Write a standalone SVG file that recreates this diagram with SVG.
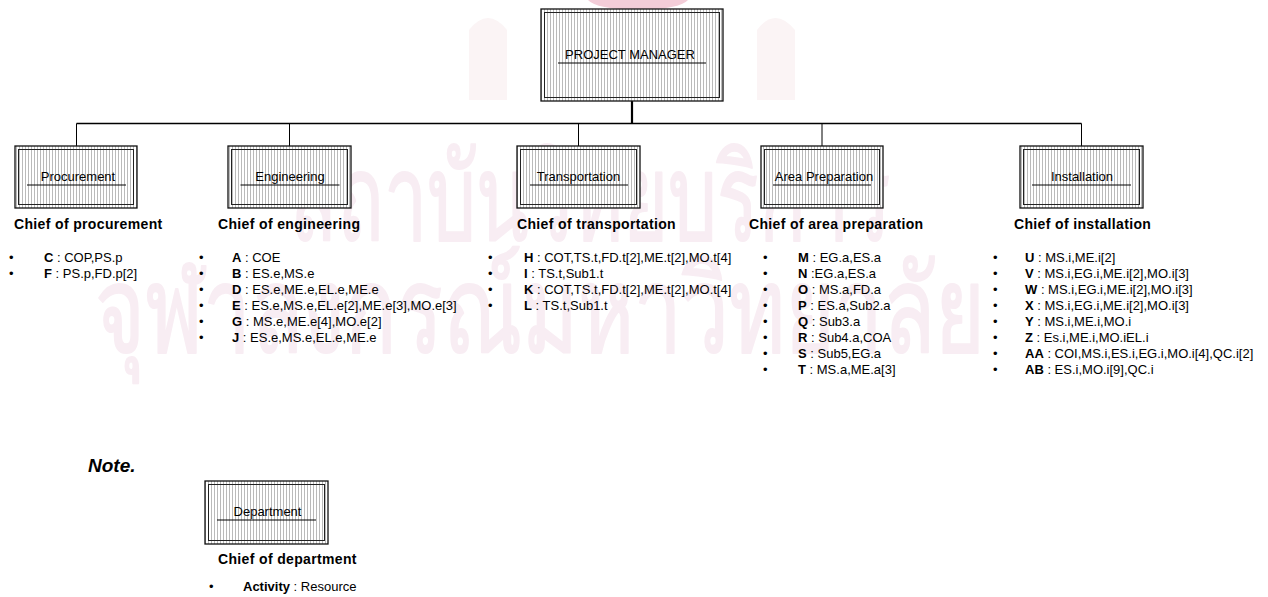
<svg xmlns="http://www.w3.org/2000/svg" width="1268" height="597" viewBox="0 0 1268 597">
  <style>
    text { font-family: "Liberation Sans", Arial, sans-serif; fill: #000; }
    .lbl { font-size: 13px; text-anchor: middle; }
    .chief { font-size: 14px; font-weight: bold; letter-spacing: 0.35px; }
    .item { font-size: 13px; }
    .item tspan.k { font-weight: bold; }
    .outer { fill: url(#hatch); stroke: #111; stroke-width: 1.3; }
    .inner { fill: none; stroke: #222; stroke-width: 1; }
    .ul { stroke: #000; stroke-width: 1; }
    .wire { stroke: #000; fill: none; }
    .wm { font-family: "Noto Sans", "DejaVu Sans", sans-serif; font-size: 120px;
          fill: #f8edf3; stroke: #f8edf3; stroke-width: 2; stroke-linejoin: round; }
    .emblem { fill: #fbf4f5; }
  </style>
  <defs>
    <pattern id="hatch" width="3" height="10" patternUnits="userSpaceOnUse">
      <rect width="3" height="10" fill="#fff"/>
      <line x1="1.5" y1="0" x2="1.5" y2="10" stroke="#9c9c9c" stroke-width="0.7"/>
    </pattern>
  </defs>

  <rect width="1268" height="597" fill="#fff"/>

  <!-- faint background emblem and lettering -->
  <g id="watermark">
    <path class="emblem" d="M757 100 V30 Q775 6 795 30 V100 Z"/>
    <path class="emblem" d="M469 100 V30 Q488 6 507 30 V100 Z"/>
    <path d="M588 0 H688 Q680 9 638 10 Q596 9 588 0 Z" fill="#f3cdd8"/>
    <text class="wm" x="290" y="240" textLength="600" lengthAdjust="spacingAndGlyphs">สถาบันวิทยบริการ</text>
    <text class="wm" x="95" y="352" textLength="890" lengthAdjust="spacingAndGlyphs">จุฬาลงกรณ์มหาวิทยาลัย</text>
  </g>

  <!-- tree connectors -->
  <g id="connectors">
    <line class="wire" x1="632" y1="101" x2="632" y2="124" stroke-width="2.2"/>
    <line class="wire" x1="76.5" y1="123.5" x2="1081.5" y2="123.5" stroke-width="1.4"/>
    <line class="wire" x1="76.5" y1="123.5" x2="76.5" y2="146" stroke-width="1"/>
    <line class="wire" x1="289.5" y1="123.5" x2="289.5" y2="146" stroke-width="1"/>
    <line class="wire" x1="578.5" y1="123.5" x2="578.5" y2="146" stroke-width="1"/>
    <line class="wire" x1="822" y1="123.5" x2="822" y2="146" stroke-width="1"/>
    <line class="wire" x1="1081.5" y1="123.5" x2="1081.5" y2="146" stroke-width="1"/>
  </g>

  <!-- top of the tree -->
  <g id="project-manager">
    <rect class="outer" x="541" y="9" width="182" height="92"/>
    <rect class="inner" x="544.5" y="12.5" width="175" height="85"/>
    <text class="lbl" x="630" y="59">PROJECT MANAGER</text>
    <line class="ul" x1="558" y1="63" x2="706" y2="63"/>
  </g>

  <!-- departments -->
  <g id="procurement">
    <rect class="outer" x="15" y="146" width="122" height="62"/>
    <rect class="inner" x="18.5" y="149.5" width="115" height="55"/>
    <text class="lbl" x="78" y="181">Procurement</text>
    <line class="ul" x1="27" y1="185" x2="126" y2="185"/>
    <text class="chief" x="14" y="229">Chief of procurement</text>
    <text class="item" x="9" y="261.5">•</text>
    <text class="item" x="44" y="261.5"><tspan class="k">C</tspan> : COP,PS.p</text>
    <text class="item" x="9" y="277.5">•</text>
    <text class="item" x="44" y="277.5"><tspan class="k">F</tspan> : PS.p,FD.p[2]</text>
  </g>

  <g id="engineering">
    <rect class="outer" x="228" y="146" width="123" height="62"/>
    <rect class="inner" x="231.5" y="149.5" width="116" height="55"/>
    <text class="lbl" x="290" y="181">Engineering</text>
    <line class="ul" x1="240.5" y1="185" x2="339.5" y2="185"/>
    <text class="chief" x="218" y="229">Chief of engineering</text>
    <text class="item" x="199" y="261.5">•</text>
    <text class="item" x="232" y="261.5"><tspan class="k">A</tspan> : COE</text>
    <text class="item" x="199" y="277.5">•</text>
    <text class="item" x="232" y="277.5"><tspan class="k">B</tspan> : ES.e,MS.e</text>
    <text class="item" x="199" y="293.5">•</text>
    <text class="item" x="232" y="293.5"><tspan class="k">D</tspan> : ES.e,ME.e,EL.e,ME.e</text>
    <text class="item" x="199" y="309.5">•</text>
    <text class="item" x="232" y="309.5"><tspan class="k">E</tspan> : ES.e,MS.e,EL.e[2],ME.e[3],MO.e[3]</text>
    <text class="item" x="199" y="325.5">•</text>
    <text class="item" x="232" y="325.5"><tspan class="k">G</tspan> : MS.e,ME.e[4],MO.e[2]</text>
    <text class="item" x="199" y="341.5">•</text>
    <text class="item" x="232" y="341.5"><tspan class="k">J</tspan> : ES.e,MS.e,EL.e,ME.e</text>
  </g>

  <g id="transportation">
    <rect class="outer" x="517" y="146" width="123" height="62"/>
    <rect class="inner" x="520.5" y="149.5" width="116" height="55"/>
    <text class="lbl" x="578.5" y="181">Transportation</text>
    <line class="ul" x1="530" y1="185" x2="628" y2="185"/>
    <text class="chief" x="517" y="229">Chief of transportation</text>
    <text class="item" x="488" y="261.5">•</text>
    <text class="item" x="524" y="261.5"><tspan class="k">H</tspan> : COT,TS.t,FD.t[2],ME.t[2],MO.t[4]</text>
    <text class="item" x="488" y="277.5">•</text>
    <text class="item" x="524" y="277.5"><tspan class="k">I</tspan> : TS.t,Sub1.t</text>
    <text class="item" x="488" y="293.5">•</text>
    <text class="item" x="524" y="293.5"><tspan class="k">K</tspan> : COT,TS.t,FD.t[2],ME.t[2],MO.t[4]</text>
    <text class="item" x="488" y="309.5">•</text>
    <text class="item" x="524" y="309.5"><tspan class="k">L</tspan> : TS.t,Sub1.t</text>
  </g>

  <g id="area-preparation">
    <rect class="outer" x="761" y="146" width="122" height="62"/>
    <rect class="inner" x="764.5" y="149.5" width="115" height="55"/>
    <text class="lbl" x="824" y="181">Area Preparation</text>
    <line class="ul" x1="773" y1="185" x2="871" y2="185"/>
    <text class="chief" x="749" y="229">Chief of area preparation</text>
    <text class="item" x="763" y="261.5">•</text>
    <text class="item" x="798" y="261.5"><tspan class="k">M</tspan> : EG.a,ES.a</text>
    <text class="item" x="763" y="277.5">•</text>
    <text class="item" x="798" y="277.5"><tspan class="k">N</tspan> :EG.a,ES.a</text>
    <text class="item" x="763" y="293.5">•</text>
    <text class="item" x="798" y="293.5"><tspan class="k">O</tspan> : MS.a,FD.a</text>
    <text class="item" x="763" y="309.5">•</text>
    <text class="item" x="798" y="309.5"><tspan class="k">P</tspan> : ES.a,Sub2.a</text>
    <text class="item" x="763" y="325.5">•</text>
    <text class="item" x="798" y="325.5"><tspan class="k">Q</tspan> : Sub3.a</text>
    <text class="item" x="763" y="341.5">•</text>
    <text class="item" x="798" y="341.5"><tspan class="k">R</tspan> : Sub4.a,COA</text>
    <text class="item" x="763" y="357.5">•</text>
    <text class="item" x="798" y="357.5"><tspan class="k">S</tspan> : Sub5,EG.a</text>
    <text class="item" x="763" y="373.5">•</text>
    <text class="item" x="798" y="373.5"><tspan class="k">T</tspan> : MS.a,ME.a[3]</text>
  </g>

  <g id="installation">
    <rect class="outer" x="1020" y="146" width="123" height="62"/>
    <rect class="inner" x="1023.5" y="149.5" width="116" height="55"/>
    <text class="lbl" x="1082" y="181">Installation</text>
    <line class="ul" x1="1032" y1="185" x2="1131" y2="185"/>
    <text class="chief" x="1014" y="229">Chief of installation</text>
    <text class="item" x="993" y="261.5">•</text>
    <text class="item" x="1025" y="261.5"><tspan class="k">U</tspan> : MS.i,ME.i[2]</text>
    <text class="item" x="993" y="277.5">•</text>
    <text class="item" x="1025" y="277.5"><tspan class="k">V</tspan> : MS.i,EG.i,ME.i[2],MO.i[3]</text>
    <text class="item" x="993" y="293.5">•</text>
    <text class="item" x="1025" y="293.5"><tspan class="k">W</tspan> : MS.i,EG.i,ME.i[2],MO.i[3]</text>
    <text class="item" x="993" y="309.5">•</text>
    <text class="item" x="1025" y="309.5"><tspan class="k">X</tspan> : MS.i,EG.i,ME.i[2],MO.i[3]</text>
    <text class="item" x="993" y="325.5">•</text>
    <text class="item" x="1025" y="325.5"><tspan class="k">Y</tspan> : MS.i,ME.i,MO.i</text>
    <text class="item" x="993" y="341.5">•</text>
    <text class="item" x="1025" y="341.5"><tspan class="k">Z</tspan> : Es.i,ME.i,MO.iEL.i</text>
    <text class="item" x="993" y="357.5">•</text>
    <text class="item" x="1025" y="357.5"><tspan class="k">AA</tspan> : COI,MS.i,ES.i,EG.i,MO.i[4],QC.i[2]</text>
    <text class="item" x="993" y="373.5">•</text>
    <text class="item" x="1025" y="373.5"><tspan class="k">AB</tspan> : ES.i,MO.i[9],QC.i</text>
  </g>

  <!-- legend -->
  <g id="legend">
    <text x="88" y="472" font-size="19" font-weight="bold" font-style="italic">Note.</text>
    <rect class="outer" x="205" y="481" width="123" height="63"/>
    <rect class="inner" x="208.5" y="484.5" width="116" height="56"/>
    <text class="lbl" x="267.5" y="516">Department</text>
    <line class="ul" x1="217" y1="520" x2="316" y2="520"/>
    <text class="chief" x="218" y="564">Chief of department</text>
    <text class="item" x="209" y="591">•</text>
    <text class="item" x="243" y="591"><tspan class="k">Activity</tspan> : Resource</text>
  </g>
</svg>
